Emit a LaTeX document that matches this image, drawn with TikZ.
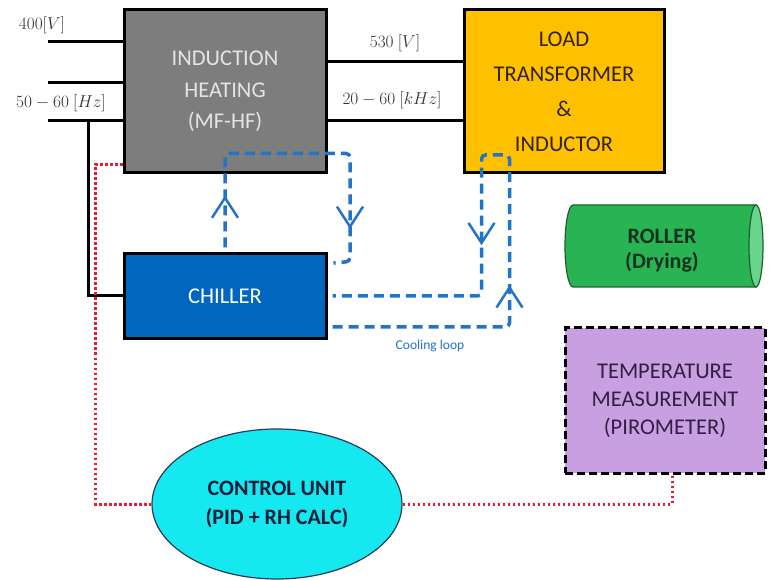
\documentclass[tikz,border=0pt]{standalone}
\usepackage[no-math]{fontspec}
\setmainfont{Carlito}
\usetikzlibrary{arrows.meta,decorations.markings,shapes.geometric}
\definecolor{ihgray}{RGB}{125,125,125}
\definecolor{ihtext}{RGB}{228,228,228}
\definecolor{loadfill}{RGB}{255,192,0}
\definecolor{loadtext}{RGB}{50,35,10}
\definecolor{chillfill}{RGB}{0,102,192}
\definecolor{rollfill}{RGB}{40,180,82}
\definecolor{rollcap}{RGB}{105,212,140}
\definecolor{rolledge}{RGB}{30,95,50}
\definecolor{rolltext}{RGB}{20,50,30}
\definecolor{tempfill}{RGB}{200,160,225}
\definecolor{temptext}{RGB}{50,30,70}
\definecolor{cufill}{RGB}{22,232,240}
\definecolor{cuedge}{RGB}{40,60,90}
\definecolor{cutext}{RGB}{20,30,60}
\definecolor{coolblue}{RGB}{35,115,200}
\definecolor{ctrlred}{RGB}{230,30,50}
\begin{document}
\begin{tikzpicture}[x=1pt,y=-1pt,
  box/.style={draw=black,line width=3pt,rectangle,inner sep=0pt,align=center},
  wire/.style={draw=black,line width=3pt},
  lab/.style={inner sep=0pt,font=\fontsize{18.5}{20}\selectfont,text=black!80},
  chev/.tip={Straight Barb[length=20pt,width=26pt,line width=2.5pt]},
  cool/.style={draw=coolblue,line width=3.5pt,dash pattern=on 10pt off 6pt,rounded corners=4pt},
  ctrl/.style={draw=ctrlred,line width=3pt,dash pattern=on 2.5pt off 2.5pt}]
\useasboundingbox (0,0) rectangle (769,580);
\fill[white] (0,0) rectangle (769,580);

% main blocks
\node[box,fill=ihgray,text=ihtext,minimum width=202pt,minimum height=163pt,
  font=\fontsize{22.5}{31.5}\selectfont] (ih) at (225,91.5) {INDUCTION\\HEATING\\(MF-HF)};
\node[box,fill=loadfill,text=loadtext,minimum width=200pt,minimum height=163pt,
  font=\fontsize{22.5}{35}\selectfont] (ld) at (564,91.5) {LOAD\\TRANSFORMER\\\&\\INDUCTOR};
\node[box,fill=chillfill,text=white,minimum width=202pt,minimum height=84pt,
  font=\fontsize{22.5}{26}\selectfont] (ch) at (225,296) {CHILLER};
\node[box,fill=tempfill,text=temptext,dash pattern=on 8pt off 4pt,minimum width=200pt,minimum height=145pt,
  font=\fontsize{22.5}{28}\selectfont] (tm) at (665,400.5) {TEMPERATURE\\MEASUREMENT\\(PIROMETER)};
\node[ellipse,draw=cuedge,line width=1.2pt,fill=cufill,text=cutext,minimum width=250pt,minimum height=150pt,
  inner sep=0pt,align=center,font=\bfseries\fontsize{22}{29}\selectfont] (cu) at (277,504) {CONTROL UNIT\\(PID + RH CALC)};

% roller (cylinder)
\fill[rollfill,draw=rolledge,line width=1.2pt] (573,205) -- (756,205) -- (756,287) -- (573,287)
  arc[start angle=90,end angle=270,x radius=8,y radius=41] -- cycle;
\filldraw[fill=rollcap,draw=rolledge,line width=1.2pt] (756,246) ellipse[x radius=7,y radius=41];
\node[inner sep=0pt,align=center,text=rolltext,font=\bfseries\fontsize{22}{25}\selectfont] (ro) at (662,250.5) {ROLLER\\(Drying)};

% supply wires
\coordinate (in1) at (48,42);
\coordinate (in2) at (48,83);
\coordinate (in3) at (48,121);
\coordinate (tap) at (88,121);
\draw[wire] (in1) -- (in1 -| ih.west);
\draw[wire] (in2) -- (in2 -| ih.west);
\draw[wire] (in3) -- (in3 -| ih.west);
\draw[wire] (tap) |- (ch.west);
\node[lab] (l400) at (42,25) {$400[V]$};
\node[lab] (lhz) at (61,103) {$50-60\ [Hz]$};

% output wires
\draw[wire] ([yshift=29.5pt]ih.east) -- ([yshift=29.5pt]ld.west);
\draw[wire] ([yshift=-29.5pt]ih.east) -- ([yshift=-29.5pt]ld.west);
\node[lab] (l530) at (395,43) {$530\ [V]$};
\node[lab] (lkhz) at (392,100) {$20-60\ [kHz]$};

% cooling loops
\draw[cool,postaction={decorate},decoration={markings,
    mark=at position 52pt with {\arrow{chev}},
    mark=at position 291pt with {\arrow{chev}}}]
  ([yshift=5pt]ch.north) -- ++(0,-94) -- ++(125,0) -- ++(0,108) -- ([xshift=6pt,yshift=33pt]ch.east);
\draw[cool,postaction={decorate},decoration={markings,
    mark=at position 217pt with {\arrow{chev}},
    mark=at position 462pt with {\arrow{chev}}}]
  ([xshift=5pt,yshift=-31pt]ch.east) -- ++(177,0) -- ++(0,-172) -- ++(-28,0) -- ++(0,141) -- ([xshift=5pt]ch.east);
\node[inner sep=0pt,text=coolblue,font=\fontsize{13.5}{15}\selectfont] (cl) at (430,346) {Cooling loop};

% control links
\draw[ctrl] ([yshift=10pt]ih.south west) -- ++(-27,0) |- (cu.west);
\draw[ctrl] (cu.east) -| ([xshift=7pt]tm.south);
\end{tikzpicture}
\end{document}
